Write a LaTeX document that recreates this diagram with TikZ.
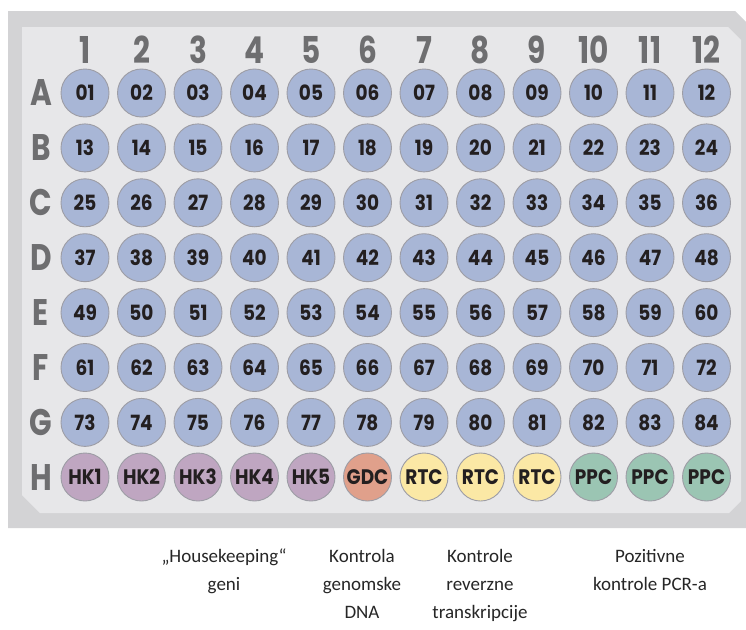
\documentclass[tikz,border=0pt]{standalone}
\usepackage{fontspec}
\setmainfont{Carlito}
\newfontfamily\platefont[FakeStretch=0.8]{Poppins}
\newfontfamily\wellfont[FakeStretch=0.88]{Poppins}
\definecolor{plateouter}{HTML}{D3D3D5}
\definecolor{plateinner}{HTML}{E7E7E9}
\definecolor{wellblue}{HTML}{A8B6D6}
\definecolor{wellhk}{HTML}{BFA6C1}
\definecolor{wellgdc}{HTML}{E0A08B}
\definecolor{wellrtc}{HTML}{FBE8A5}
\definecolor{wellppc}{HTML}{9BC5B3}
\definecolor{wellrim}{HTML}{9D9DA5}
\definecolor{labelgray}{HTML}{6E6E70}
\definecolor{welltext}{HTML}{231F20}
\tikzset{
  well/.style={circle, draw=wellrim, line width=0.9pt, minimum size=48pt, inner sep=0pt,
    font=\wellfont\bfseries\fontsize{21}{22}\selectfont, text=welltext},
  axislabel/.style={font=\platefont\bfseries\fontsize{37}{40}\selectfont, text=labelgray, inner sep=0pt},
  caption/.style={font=\fontsize{19}{28}\selectfont, align=center, inner sep=0pt, text=black!85}
}
\begin{document}
\begin{tikzpicture}[x=1pt,y=-1pt]
\useasboundingbox (0,0) rectangle (746,629);
\fill[white] (0,0) rectangle (746,629);
% plate
\fill[plateouter] (8,11) -- (735,11) -- (746,22) -- (746,528) -- (8,528) -- cycle;
\fill[plateinner] (22,27) -- (728,27) -- (741,40) -- (741,501) -- (729,513) -- (40,513) -- (22,495) -- cycle;
% column numbers
\foreach \c in {1,...,12}{
  \node[axislabel] (col\c) at ({85+(\c-1)*56.5},50) {\c};
}
% row letters
\foreach \r/\l in {0/A,1/B,2/C,3/D,4/E,5/F,6/G,7/H}{
  \node[axislabel] (row\l) at (41,{93+\r*54.9}) {\l};
}
% wells A-G
\foreach \r/\l in {0/A,1/B,2/C,3/D,4/E,5/F,6/G}{
  \foreach \c in {1,...,12}{
    \pgfmathtruncatemacro{\n}{\r*12+\c}
    \ifnum\n<10 \edef\lab{0\n}\else\edef\lab{\n}\fi
    \node[well, fill=wellblue] (w\l\c) at ({85+(\c-1)*56.5},{93+\r*54.9}) {\lab};
  }
}
% row H
\foreach \c/\t/\f in {1/HK1/wellhk,2/HK2/wellhk,3/HK3/wellhk,4/HK4/wellhk,5/HK5/wellhk,6/GDC/wellgdc,7/RTC/wellrtc,8/RTC/wellrtc,9/RTC/wellrtc,10/PPC/wellppc,11/PPC/wellppc,12/PPC/wellppc}{
  \node[well, fill=\f] (wH\c) at ({85+(\c-1)*56.5},477) {\t};
}
% captions
\node[caption, anchor=north] (capHK) at (224,549) {„Housekeeping“\\geni};
\node[caption, anchor=north] (capGDC) at (362,549) {Kontrola\\genomske\\DNA};
\node[caption, anchor=north] (capRTC) at (480,549) {Kontrole\\reverzne\\transkripcije};
\node[caption, anchor=north] (capPPC) at (650,549) {Pozitivne\\kontrole PCR-a};
\end{tikzpicture}
\end{document}
